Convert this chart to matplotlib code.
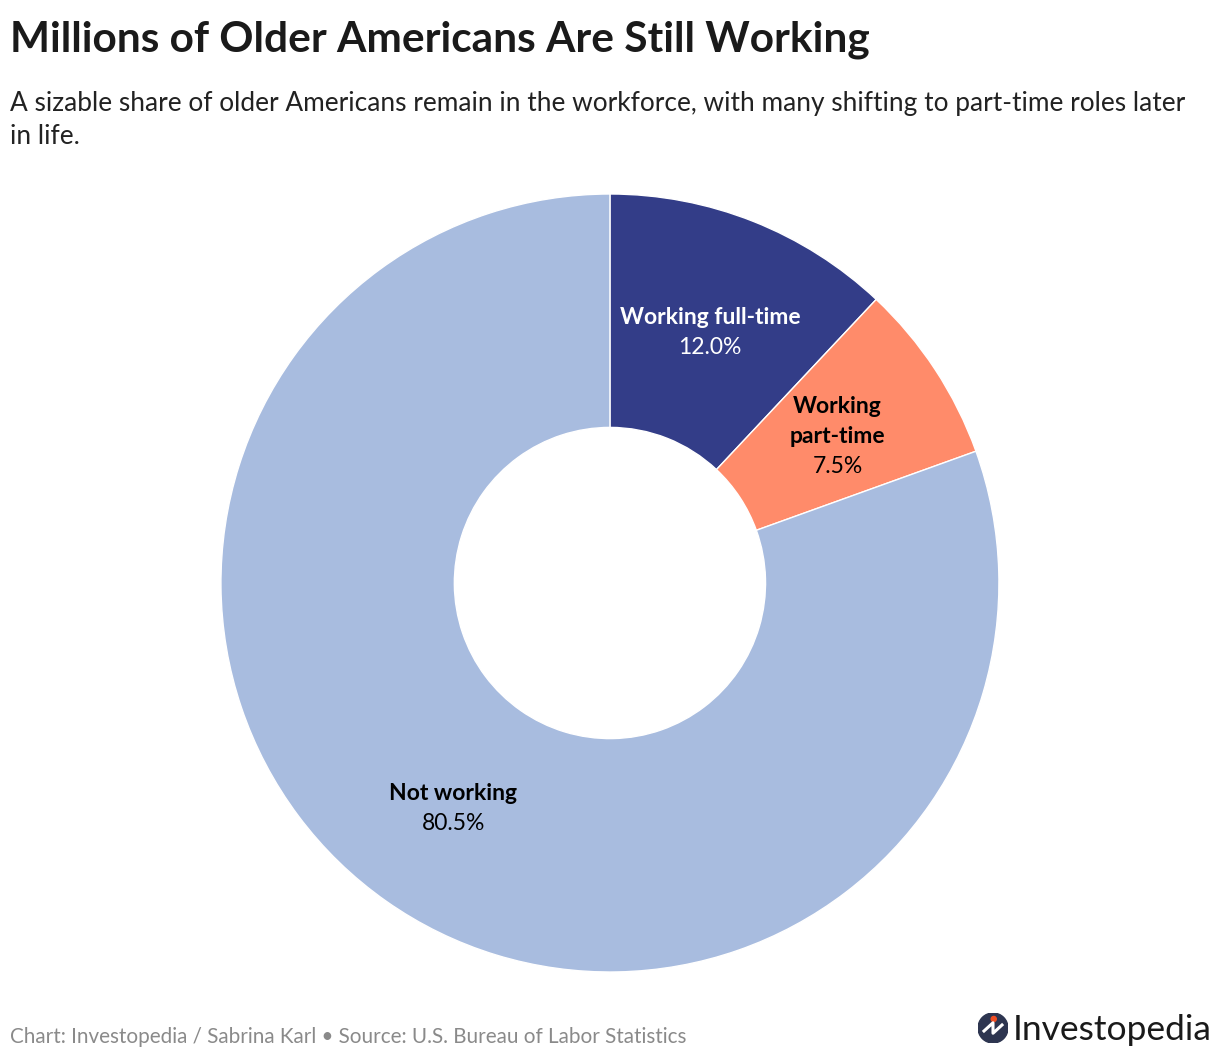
import numpy as np
import matplotlib
matplotlib.use("Agg")
import matplotlib.pyplot as plt
from matplotlib.patches import Circle

# Données
categories = ["Working full-time", "Working\npart-time", "Not working"]
shares = [12.0, 7.5, 80.5]
colors = ["#333D88", "#FF8B6A", "#A8BCDF"]
label_colors = ["white", "black", "black"]

plt.rcParams['font.family'] = ['Lato', 'DejaVu Sans']

fig = plt.figure(figsize=(12.2, 10.6), dpi=100)
fig.patch.set_facecolor("white")

# Axe du donut
ax = fig.add_axes([0.1811, 0.083, 0.6377, 0.734])
wedges, _ = ax.pie(shares, colors=colors, startangle=90, counterclock=False,
                   radius=1.0, wedgeprops=dict(width=0.6, edgecolor="white", linewidth=1))
ax.set_xlim(-1, 1)
ax.set_ylim(-1, 1)
ax.set_aspect("equal")
ax.axis("off")

# Étiquettes au milieu de l'anneau (une ligne à la fois, pas de 0.077)
step = 0.077
for w, cat, val, tc in zip(wedges, categories, shares, label_colors):
    ang = np.deg2rad((w.theta1 + w.theta2) / 2)
    x, y = 0.7 * np.cos(ang), 0.7 * np.sin(ang) - 0.008
    lines = cat.split("\n")
    n = len(lines) + 1
    top = y + step * (n - 1) / 2
    for i, ln in enumerate(lines):
        ax.text(x, top - i * step, ln, ha="center", va="center", color=tc,
                fontsize=16.5, fontweight="bold")
    ax.text(x, top - len(lines) * step, f"{val:.1f}%",
            ha="center", va="center", color=tc, fontsize=16.5)

# Titre et sous-titre
fig.text(10 / 1220, 1 - 40 / 1060, "Millions of Older Americans Are Still Working",
         fontsize=30.5, fontweight="bold", color="#1a1a1a", va="center", ha="left")
fig.text(10 / 1220, 1 - 120 / 1060,
         "A sizable share of older Americans remain in the workforce, with many shifting to part-time roles later\nin life.",
         fontsize=18.9, color="#222222", va="center", ha="left", linespacing=1.38)

# Pied de page
fig.text(10 / 1220, 1 - 1037 / 1060,
         "Chart: Investopedia / Sabrina Karl \u2022 Source: U.S. Bureau of Labor Statistics",
         fontsize=14.9, color="#8a8a8a", va="center", ha="left")

# Logo
logo = fig.add_axes([978 / 1220, (1060 - 1043) / 1060, 30 / 1220, 30 / 1060])
logo.set_xlim(-1, 1)
logo.set_ylim(-1, 1)
logo.set_aspect("equal")
logo.axis("off")
logo.add_patch(Circle((0, 0), 1, color="#2d3550"))
logo.plot([-0.6, 0.0, 0.0, 0.6], [-0.2, 0.35, -0.35, 0.2], color="white", lw=2.2)
logo.add_patch(Circle((0.05, 0.6), 0.17, color="#f04e23"))
fig.text(1013 / 1220, 1 - 1030 / 1060, "Investopedia", fontsize=25.5, color="#1a1a1a",
         va="center", ha="left")

fig.savefig("out.png", dpi=100, facecolor="white")
